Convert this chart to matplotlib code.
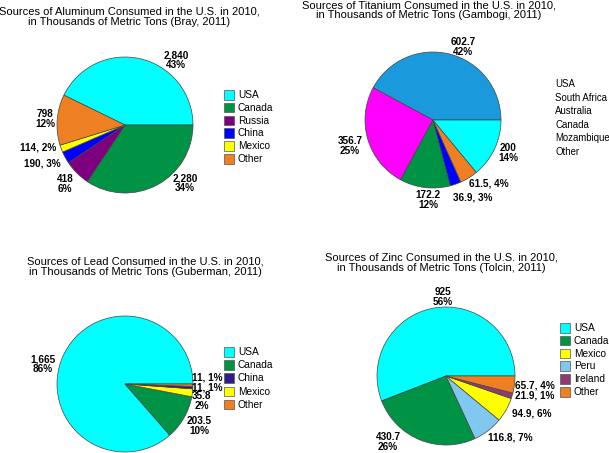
import matplotlib
matplotlib.use("Agg")
import matplotlib.pyplot as plt
from matplotlib.patches import Rectangle

plt.rcParams['font.family'] = ['Liberation Sans', 'DejaVu Sans']

W, H = 609, 453

# Datos (orden de la leyenda)
al_labels = ['USA', 'Canada', 'Russia', 'China', 'Mexico', 'Other']
al_values = [2840, 2280, 418, 190, 114, 798]
al_colors = ['#00FFFF', '#009245', '#7F007F', '#0000FF', '#FFFF00', '#EE7F22']
al_text = ['2,840\n43%', '2,280\n34%', '418\n6%', '190, 3%', '114, 2%', '798\n12%']

ti_labels = ['USA', 'South Africa', 'Australia', 'Canada', 'Mozambique', 'Other']
ti_values = [602.7, 356.7, 172.2, 36.9, 61.5, 200]
ti_colors = ['#1A99DD', '#FF00FF', '#009245', '#0000FF', '#EE7F22', '#00FFFF']
ti_text = ['602.7\n42%', '356.7\n25%', '172.2\n12%', '36.9, 3%', '61.5, 4%', '200\n14%']

pb_labels = ['USA', 'Canada', 'China', 'Mexico', 'Other']
pb_values = [1665, 203.5, 11, 35.8, 11]
pb_colors = ['#00FFFF', '#009245', '#2E1C8C', '#FFFF00', '#EE7F22']
pb_text = ['1,665\n86%', '203.5\n10%', '11, 1%', '35.8\n2%', '11, 1%']
pb_order = [0, 1, 3, 2, 4]

zn_labels = ['USA', 'Canada', 'Mexico', 'Peru', 'Ireland', 'Other']
zn_values = [925, 430.7, 94.9, 116.8, 21.9, 65.7]
zn_colors = ['#00FFFF', '#009245', '#FFFF00', '#80C8F0', '#8E3B70', '#EE7F22']
zn_text = ['925\n56%', '430.7\n26%', '94.9, 6%', '116.8, 7%', '21.9, 1%', '65.7, 4%']
zn_order = [0, 1, 3, 2, 4, 5]

fig = plt.figure(figsize=(W / 100, H / 100), dpi=100)
ax = fig.add_axes([0, 0, 1, 1])


def py(y):
    return H - y


def draw_pie(values, colors, order, center, r, counterclock=True, start=0):
    v = [values[i] for i in order]
    c = [colors[i] for i in order]
    ax.pie(v, colors=c, startangle=start, counterclock=counterclock,
           center=(center[0], py(center[1])), radius=r,
           wedgeprops=dict(edgecolor='#444444', linewidth=0.5))


def draw_title(text, x, y):
    ax.text(x, py(y), text, ha='center', va='center', fontsize=8.0,
            linespacing=1.0)


def draw_labels(texts, positions):
    for t, (x, y) in zip(texts, positions):
        ax.text(x, py(y), t, ha='center', va='center', fontsize=7.2,
                fontweight='bold', linespacing=0.98)


def draw_legend(labels, colors, x, y0, dy, boxes=True, size=7.3):
    for i, (lab, col) in enumerate(zip(labels, colors)):
        y = y0 + i * dy
        if boxes:
            ax.add_patch(Rectangle((x, py(y) - 4.5), 9.5, 9.5, facecolor=col,
                                   edgecolor='#555555', linewidth=0.5))
            ax.text(x + 14, py(y), lab, ha='left', va='center', fontsize=size)
        else:
            ax.text(x, py(y), lab, ha='left', va='center', fontsize=size)


# Aluminio
al_total = sum(al_values)
draw_pie(al_values, al_colors, range(6), (125, 125), 68,
         counterclock=False, start=360 * al_values[0] / al_total)
draw_title('Sources of Aluminum Consumed in the U.S. in 2010,\n'
           'in Thousands of Metric Tons (Bray, 2011)', 129, 17)
draw_labels(al_text, [(176, 60), (185, 183), (65, 184), (42, 164), (38, 148), (45, 119)])
draw_legend(al_labels, al_colors, 224, 95, 12.8)

# Titanio
draw_pie(ti_values, ti_colors, range(6), (433, 120), 68)
draw_title('Sources of Titanium Consumed in the U.S. in 2010,\n'
           'in Thousands of Metric Tons (Gambogi, 2011)', 429, 10)
draw_labels(ti_text, [(463, 47), (350, 146), (428, 200), (473, 197), (489, 183), (508, 153)])
draw_legend(ti_labels, ti_colors, 555, 84, 13.6, boxes=False, size=6.9)

# Plomo
draw_pie(pb_values, pb_colors, pb_order, (125, 384), 68)
draw_title('Sources of Lead Consumed in the U.S. in 2010,\n'
           'in Thousands of Metric Tons (Guberman, 2011)', 145, 267)
draw_labels(pb_text, [(43, 364), (199, 426), (207, 387), (202, 401), (207, 377)])
draw_legend(pb_labels, pb_colors, 224, 352, 13.2)

# Zinc
draw_pie(zn_values, zn_colors, zn_order, (446, 376), 69)
draw_title('Sources of Zinc Consumed in the U.S. in 2010,\n'
           'in Thousands of Metric Tons (Tolcin, 2011)', 441, 263)
draw_labels(zn_text, [(443, 297), (388, 442), (532, 414), (510, 437), (535, 396), (535, 386)])
draw_legend(zn_labels, zn_colors, 560, 328, 12.8)

ax.set_xlim(0, W)
ax.set_ylim(0, H)
ax.set_aspect('auto')
ax.axis('off')

fig.savefig('out.png', dpi=100)
